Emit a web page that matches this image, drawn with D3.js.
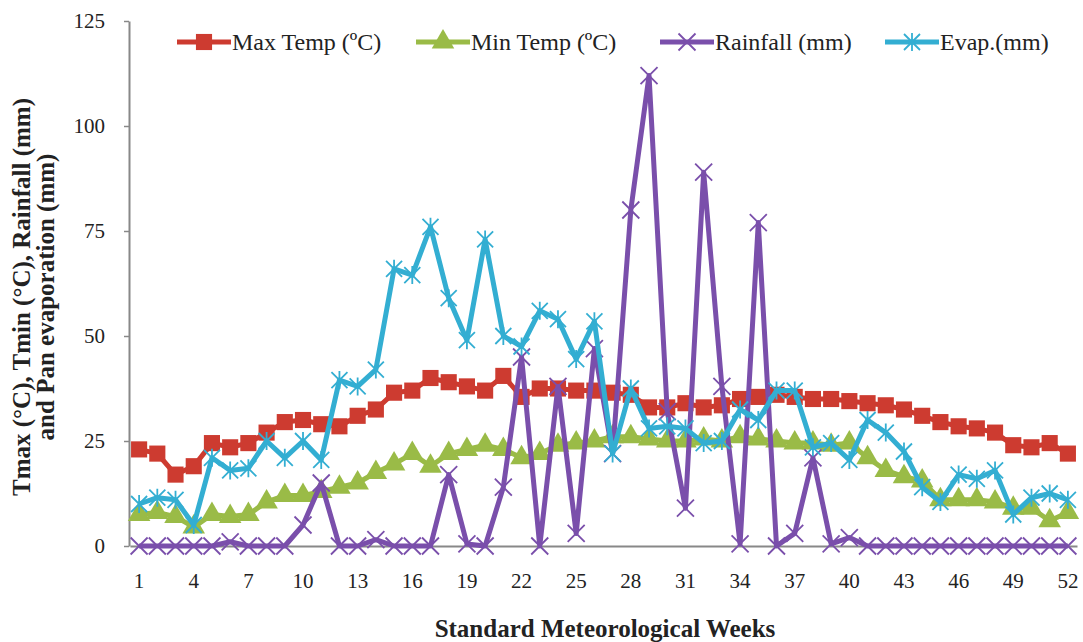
<!DOCTYPE html>
<html>
<head>
<meta charset="utf-8">
<script src="https://cdn.jsdelivr.net/npm/d3@7"></script>
<style>
  html, body { margin: 0; padding: 0; background: #fff; }
  svg { display: block; }
  text { font-family: "Liberation Serif", "Times New Roman", serif; fill: #222; }
</style>
</head>
<body>
<svg id="chart" width="1083" height="642"></svg>
<script>
const weeks = d3.range(1, 53);
const xTickLabels = [1, 4, 7, 10, 13, 16, 19, 22, 25, 28, 31, 34, 37, 40, 43, 46, 49, 52];
const yTickLabels = [0, 25, 50, 75, 100, 125];

const maxTemp = [23, 22, 17, 19, 24.5, 23.5, 24.5, 27, 29.5, 30, 29, 28.5, 31, 32.5, 36.5, 37, 40, 39, 38, 37, 40.5, 35.5, 37.5, 37.5, 37, 37, 36.5, 36, 33, 33, 34, 33, 33.5, 35, 35.5, 36, 35.5, 35, 35, 34.5, 34, 33.5, 32.5, 31, 29.5, 28.5, 28, 27, 24, 23.5, 24.5, 22];
const minTemp = [7.5, 8, 7, 4.5, 7.5, 7, 7.5, 10.5, 12, 12, 13, 14, 15, 17.5, 19.5, 22, 19, 22, 23, 24, 23, 21, 22, 24, 24.5, 25, 26, 26, 25.5, 25, 25, 25.5, 25, 26, 25.5, 25, 24.5, 24.5, 24, 24.5, 21, 18, 16.5, 15.5, 11, 11, 11, 10.5, 9, 9, 6, 8];
const rainfall = [0, 0, 0, 0, 0, 1, 0, 0, 0, 5, 15, 0, 0, 1.5, 0, 0, 0, 17, 0.5, 0, 14, 45, 0, 38, 3, 47, 22, 80, 112, 32, 9, 89, 38, 0.5, 77, 0, 3, 21, 0.5, 2, 0, 0, 0, 0, 0, 0, 0, 0, 0, 0, 0, 0];
const evap = [10, 11.5, 11, 5, 21, 18, 18.5, 25, 21, 25, 20.5, 39.5, 38, 42, 66, 64.5, 76, 59, 49, 73, 50, 47.5, 56, 54, 44.5, 53.5, 22, 37.5, 28, 28.5, 28, 24.5, 25, 32.5, 30, 37, 37, 23.5, 24.5, 20.5, 30, 27, 22.5, 14, 10.5, 17, 16, 18, 7.5, 11.5, 12.5, 11];

const seriesNames = ["Max Temp (ºC)", "Min Temp (ºC)", "Rainfall (mm)", "Evap.(mm)"];
const seriesColors = ["#cd3b30", "#9abb47", "#7a4fab", "#33aed2"];
const seriesMarkers = ["square", "triangle", "x", "star"];
const seriesValues = [maxTemp, minTemp, rainfall, evap];

const svg = d3.select("#chart");

const x = d3.scaleBand().domain(weeks).range([130, 1077]).paddingInner(0).paddingOuter(0);
const xc = w => x(w) + x.bandwidth() / 2;
const y = d3.scaleLinear().domain([0, 125]).range([546, 21]);

// Axes
const yAxis = d3.axisLeft(y).tickValues(yTickLabels).tickSize(5).tickPadding(6).tickSizeOuter(0);
const gy = svg.append("g").attr("transform", "translate(129,0)").call(yAxis);
gy.select(".domain").attr("stroke", "#888").attr("stroke-width", 2);
gy.selectAll(".tick line").attr("stroke", "#888").attr("stroke-width", 1.5);
gy.selectAll(".tick text").attr("font-size", 21).attr("font-family", "Liberation Serif, serif").attr("fill", "#222").attr("x", -24);

const xAxis = d3.axisBottom(x).tickValues(xTickLabels).tickSize(0).tickPadding(27).tickSizeOuter(0);
const gx = svg.append("g").attr("transform", "translate(0,546)").call(xAxis);
gx.select(".domain").attr("stroke", "#888").attr("stroke-width", 2);
gx.selectAll(".tick text").attr("font-size", 21).attr("font-family", "Liberation Serif, serif").attr("fill", "#222");

// Marker paths
function markerPath(type) {
  if (type === "square") return d3.symbol(d3.symbolSquare, 260)();
  if (type === "triangle") return d3.symbol(d3.symbolTriangle, 220)();
  if (type === "x") { const s = 8.5; return `M${-s},${-s}L${s},${s}M${-s},${s}L${s},${-s}`; }
  if (type === "star") { const s = 8; return `M${-s},${-s}L${s},${s}M${-s},${s}L${s},${-s}M0,${-s - 1}L0,${s + 1}`; }
}

const line = d3.line().x((d, i) => xc(weeks[i])).y(d => y(d));

seriesValues.forEach((vals, k) => {
  const g = svg.append("g");
  g.append("path").datum(vals).attr("d", line).attr("fill", "none")
    .attr("stroke", seriesColors[k]).attr("stroke-width", 5).attr("stroke-linejoin", "round");
  const type = seriesMarkers[k];
  g.selectAll("path.m").data(vals).enter().append("path").attr("class", "m")
    .attr("transform", (d, i) => `translate(${xc(weeks[i])},${y(d)})`)
    .attr("d", markerPath(type))
    .attr("fill", (type === "square" || type === "triangle") ? seriesColors[k] : "none")
    .attr("stroke", seriesColors[k])
    .attr("stroke-width", (type === "square" || type === "triangle") ? 0 : 1.8);
});

// Legend
const legendX = [177, 416, 660, 885];
const lg = svg.append("g");
seriesNames.forEach((name, k) => {
  const lx = legendX[k], ly = 42;
  lg.append("line").attr("x1", lx).attr("x2", lx + 54).attr("y1", ly).attr("y2", ly)
    .attr("stroke", seriesColors[k]).attr("stroke-width", 5);
  const type = seriesMarkers[k];
  lg.append("path").attr("transform", `translate(${lx + 27},${ly})`).attr("d", markerPath(type))
    .attr("fill", (type === "square" || type === "triangle") ? seriesColors[k] : "none")
    .attr("stroke", seriesColors[k])
    .attr("stroke-width", (type === "square" || type === "triangle") ? 0 : 1.8);
  lg.append("text").attr("x", lx + 55).attr("y", ly + 8).attr("font-size", 24).text(name);
});

// Axis titles
svg.append("text").attr("x", 605).attr("y", 637).attr("text-anchor", "middle")
  .attr("font-size", 25).attr("font-weight", "bold").text("Standard Meteorological Weeks");
const yt = svg.append("text").attr("transform", "translate(0,297) rotate(-90)")
  .attr("text-anchor", "middle").attr("font-size", 25).attr("font-weight", "bold");
yt.append("tspan").attr("x", 0).attr("y", 30).text("Tmax (°C), Tmin (°C), Rainfall (mm)");
yt.append("tspan").attr("x", 0).attr("y", 54).text("and Pan evaporation (mm)");
</script>
</body>
</html>
